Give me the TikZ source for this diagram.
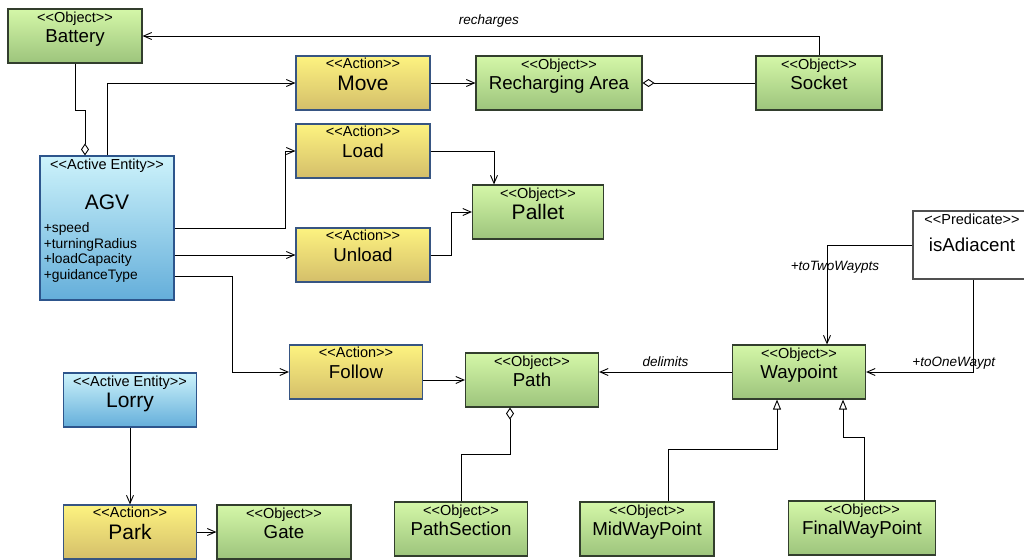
\documentclass[tikz,border=0pt]{standalone}
\usepackage{fontspec}
\setmainfont{Liberation Sans}
\usepackage{tikz}
\usetikzlibrary{arrows.meta}

\definecolor{objtop}{RGB}{212,247,168}
\definecolor{objbot}{RGB}{157,196,124}
\definecolor{objline}{RGB}{50,62,45}
\definecolor{acttop}{RGB}{253,243,128}
\definecolor{actbot}{RGB}{212,190,106}
\definecolor{actline}{RGB}{55,85,130}
\definecolor{enttop}{RGB}{205,243,251}
\definecolor{entbot}{RGB}{100,174,218}
\definecolor{entline}{RGB}{45,85,140}
\definecolor{predline}{RGB}{80,80,80}

\newcommand{\stype}[1]{<{}<#1>{}>}
\newcommand{\stsize}{\fontsize{14.5}{16}\selectfont}
\newcommand{\namesize}{\fontsize{18.7}{21}\selectfont}
\newcommand{\bigsize}{\fontsize{21}{24}\selectfont}
\newcommand{\attrsize}{\fontsize{13.8}{15.4}\selectfont}
\newcommand{\rolesize}{\fontsize{13.5}{15}\selectfont}

\begin{document}
\begin{tikzpicture}[x=1pt,y=-1pt,->,>={Straight Barb[length=8pt,width=7pt]},line width=0.9pt,
    box/.style={rectangle,line width=1.2pt,minimum width=134pt,minimum height=54pt,
                font=\namesize,text depth=0pt,inner sep=0pt},
    object node/.style={box,draw=objline,top color=objtop,bottom color=objbot},
    action node/.style={box,draw=actline,top color=acttop,bottom color=actbot},
    entity node/.style={box,draw=entline,top color=enttop,bottom color=entbot},
    pred node/.style={box,draw=predline,fill=white},
    stereo/.style={anchor=north,font=\stsize,inner sep=3.5pt},
    role/.style={font=\rolesize\itshape,inner sep=2pt},
    aggr/.style={-{Diamond[open,length=12pt,width=8pt]}},
    isa/.style={-{Triangle[open,length=10pt,width=8pt]}}]

  \useasboundingbox (0,0) rectangle (1024,559);

  \node[object node,label={[stereo]north:\stype{Object}}] (battery) at (75,36) {Battery};
  \node[entity node,minimum height=144pt,label={[stereo,inner sep=3pt]north:\stype{Active Entity}},
        label={[anchor=north,inner sep=0pt,font=\bigsize,yshift=-39pt]north:AGV},
        label={[anchor=north west,inner sep=0pt,font=\attrsize,align=left,shift={(4,67)}]north west:+speed\\+turningRadius\\+loadCapacity\\+guidanceType}]
        (agv) at (107,228) {};
  \node[action node,font=\bigsize,label={[stereo,inner sep=2pt]north:\stype{Action}}] (move) at (363,83) {Move};
  \node[object node,minimum width=166pt,label={[stereo]north:\stype{Object}}] (rarea) at (559,83) {Recharging Area};
  \node[object node,minimum width=126pt,label={[stereo]north:\stype{Object}}] (socket) at (819,83) {Socket};
  \node[action node,label={[stereo,inner sep=2pt]north:\stype{Action}}] (load) at (363,151) {Load};
  \node[object node,minimum width=131pt,font=\bigsize,label={[stereo]north:\stype{Object}}] (pallet) at (538,212) {Pallet};
  \node[action node,label={[stereo,inner sep=2pt]north:\stype{Action}}] (unload) at (363,255) {Unload};
  \node[pred node,minimum width=118pt,minimum height=68pt,label={[stereo]north:\stype{Predicate}}] (adiacent) at (972,245) {isAdiacent};
  \node[action node,minimum width=133pt,label={[stereo,inner sep=2pt]north:\stype{Action}}] (follow) at (356,372) {Follow};
  \node[object node,minimum width=133pt,label={[stereo]north:\stype{Object}}] (path) at (532,380) {Path};
  \node[object node,minimum width=133pt,label={[stereo]north:\stype{Object}}] (waypoint) at (799,372) {Waypoint};
  \node[object node,minimum width=133pt,label={[stereo]north:\stype{Object}}] (pathsection) at (461,529) {PathSection};
  \node[object node,label={[stereo]north:\stype{Object}}] (midwaypoint) at (647,529) {MidWayPoint};
  \node[object node,minimum width=147pt,label={[stereo]north:\stype{Object}}] (finalwaypoint) at (862,528) {FinalWayPoint};
  \node[entity node,minimum width=133pt,font=\bigsize,label={[stereo]north:\stype{Active Entity}}] (lorry) at (130,400) {Lorry};
  \node[action node,minimum width=133pt,font=\bigsize,label={[stereo,inner sep=2pt]north:\stype{Action}}] (park) at (130,532) {Park};
  \node[object node,label={[stereo]north:\stype{Object}}] (gate) at (284,532) {Gate};

  \path
    (move) edge (rarea)
    (socket) edge[aggr] (rarea)
    (lorry) edge (park)
    (park) edge (gate);

  \draw (socket.north) |- node[role,above=6pt,pos=0.744] {recharges} (battery.east);
  \draw[aggr] (battery.south) -- ++(0,47) -| ([xshift=-22pt]agv.north);
  \draw (agv.north) |- (move.west);
  \draw (agv.east) -- ++(111,0) |- (load.west);
  \draw (unload.west -| agv.east) -- (unload.west);
  \draw ([yshift=-48pt]agv.east) -- ++(58,0) |- (follow.west);
  \draw (load.east) -| ([xshift=-44pt]pallet.north);
  \draw (unload.east) -- ++(21,0) |- (pallet.west);
  \draw (path.west -| follow.east) -- (path.west);
  \draw (waypoint.west) -- node[role,above=3pt] {delimits} (waypoint.west -| path.east);
  \draw (adiacent.west) -| node[role,pos=0.61,xshift=8pt] {+toTwoWaypts} ([xshift=28pt]waypoint.north);
  \draw ([xshift=1pt]adiacent.south) |- node[role,above,pos=0.59] {+toOneWaypt} (waypoint.east);
  \draw[aggr] (pathsection.north) -- ++(0,-47) -| ([xshift=-22pt]path.south);
  \draw[isa] ([xshift=21pt]midwaypoint.north) -- ++(0,-52) -| ([xshift=-22pt]waypoint.south);
  \draw[isa] ([xshift=2pt]finalwaypoint.north) -- ++(0,-63) -| ([xshift=44pt]waypoint.south);
\end{tikzpicture}
\end{document}
